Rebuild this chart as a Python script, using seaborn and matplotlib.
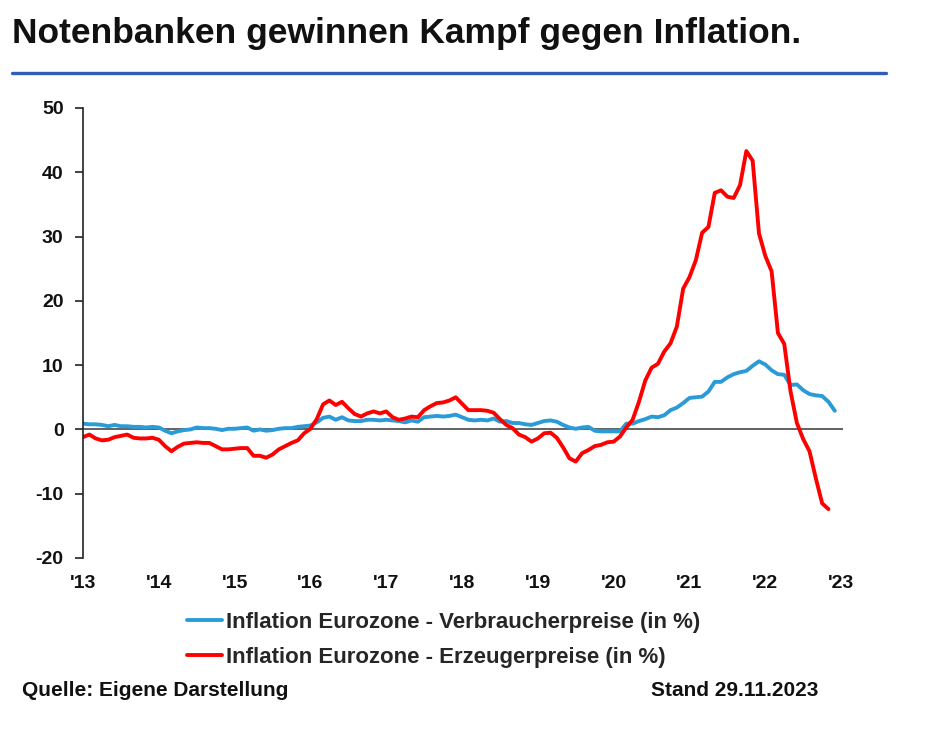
import numpy as np
import pandas as pd
import seaborn as sns
import matplotlib
matplotlib.use("Agg")
import matplotlib.pyplot as plt
from matplotlib.lines import Line2D

# ---- data (monthly, first point = first category) ----
cpi = [0.9, 0.8,
       0.8, 0.7, 0.5, 0.7, 0.5, 0.5, 0.4, 0.4, 0.3, 0.4, 0.3, -0.2,
       -0.6, -0.3, -0.1, 0.0, 0.3, 0.2, 0.2, 0.1, -0.1, 0.1, 0.1, 0.2,
       0.3, -0.2, 0.0, -0.2, -0.1, 0.1, 0.2, 0.2, 0.4, 0.5, 0.6, 1.1,
       1.8, 2.0, 1.5, 1.9, 1.4, 1.3, 1.3, 1.5, 1.5, 1.4, 1.5, 1.4,
       1.3, 1.1, 1.4, 1.2, 1.9, 2.0, 2.1, 2.0, 2.1, 2.3, 1.9, 1.5,
       1.4, 1.5, 1.4, 1.7, 1.2, 1.3, 1.0, 1.0, 0.8, 0.7, 1.0, 1.3,
       1.4, 1.2, 0.7, 0.3, 0.1, 0.3, 0.4, -0.2, -0.3, -0.3, -0.3, -0.3,
       0.9, 0.9, 1.3, 1.6, 2.0, 1.9, 2.2, 3.0, 3.4, 4.1, 4.9, 5.0,
       5.1, 5.9, 7.4, 7.4, 8.1, 8.6, 8.9, 9.1, 9.9, 10.6, 10.1, 9.2,
       8.6, 8.5, 6.9, 7.0, 6.1, 5.5, 5.3, 5.2, 4.3, 2.9]

ppi = [-1.2, -0.8,
       -1.4, -1.7, -1.6, -1.2, -1.0, -0.8, -1.3, -1.4, -1.4, -1.3, -1.6, -2.6,
       -3.4, -2.7, -2.2, -2.1, -2.0, -2.1, -2.1, -2.6, -3.1, -3.1, -3.0, -2.9,
       -2.9, -4.1, -4.1, -4.4, -3.9, -3.1, -2.6, -2.1, -1.7, -0.6, 0.1, 1.6,
       3.9, 4.5, 3.8, 4.3, 3.3, 2.4, 2.0, 2.5, 2.8, 2.5, 2.8, 1.9,
       1.5, 1.7, 2.0, 1.9, 3.0, 3.6, 4.1, 4.2, 4.5, 5.0, 4.0, 3.0,
       3.0, 3.0, 2.9, 2.6, 1.6, 0.7, 0.2, -0.8, -1.2, -1.9, -1.4, -0.6,
       -0.5, -1.3, -2.8, -4.5, -5.0, -3.7, -3.2, -2.6, -2.4, -2.0, -1.9, -1.1,
       0.3, 1.5, 4.3, 7.6, 9.6, 10.2, 12.1, 13.4, 16.0, 21.9, 23.7, 26.3,
       30.6, 31.5, 36.8, 37.2, 36.2, 36.0, 38.0, 43.3, 41.8, 30.5, 27.0, 24.6,
       15.0, 13.3, 5.9, 1.0, -1.5, -3.4, -7.6, -11.5, -12.4]

tick_labels = ["'13", "'14", "'15", "'16", "'17", "'18", "'19", "'20", "'21", "'22", "'23"]
y_ticks = [-20, -10, 0, 10, 20, 30, 40, 50]

label_cpi = "Inflation Eurozone - Verbraucherpreise (in %)"
label_ppi = "Inflation Eurozone - Erzeugerpreise (in %)"

df = pd.concat([
    pd.DataFrame({"t": np.arange(len(cpi)), "v": cpi, "s": label_cpi}),
    pd.DataFrame({"t": np.arange(len(ppi)), "v": ppi, "s": label_ppi}),
], ignore_index=True)

sns.set_theme(style="white")
plt.rcParams["font.family"] = ["Liberation Sans", "DejaVu Sans"]
plt.rcParams["font.weight"] = "bold"

W, H = 928, 736
fig = plt.figure(figsize=(W / 100, H / 100), dpi=100)
ax = fig.add_axes([83 / W, 1 - 558 / H, (843 - 83) / W, (558 - 108) / H])

palette = {label_cpi: "#2B9BD8", label_ppi: "#FF0000"}
sns.lineplot(data=df, x="t", y="v", hue="s", palette=palette, linewidth=2.8,
             ax=ax, legend=False)

ax.axhline(0, color="#555555", linewidth=1.3, zorder=1)

ax.set_xlim(0, 120.3)
ax.set_ylim(-20, 50)
ax.set_yticks(y_ticks)
ax.set_yticklabels([str(v) for v in y_ticks], fontsize=14, fontweight="bold", color="#111111")
ax.set_xticks(np.arange(0, 12 * len(tick_labels), 12))
ax.set_xticklabels(tick_labels, fontsize=14, fontweight="bold", color="#111111")
ax.tick_params(axis="y", direction="out", length=6, width=1.2, color="#222222", pad=8, left=True)
ax.tick_params(axis="x", length=0, pad=12)
ax.set_xlabel("")
ax.set_ylabel("")
for s in ["top", "right", "bottom"]:
    ax.spines[s].set_visible(False)
ax.spines["left"].set_color("#222222")
ax.spines["left"].set_linewidth(1.2)

# title and rule
fig.text(12 / W, 1 - 33 / H, "Notenbanken gewinnen Kampf gegen Inflation.",
         fontsize=25.5, fontweight="bold", color="#111111", va="center", ha="left")
fig.add_artist(Line2D([12 / W, 886 / W], [1 - 73 / H, 1 - 73 / H],
                      color="#2F5DB8", linewidth=2.4, transform=fig.transFigure))

# legend
handles = [Line2D([0], [0], color=palette[label_cpi], linewidth=2.8),
           Line2D([0], [0], color=palette[label_ppi], linewidth=2.8)]
fig.legend(handles, [label_cpi, label_ppi], loc="center left",
           bbox_to_anchor=(187 / W, 1 - 640 / H), frameon=False,
           prop={"size": 16, "weight": "bold"}, handlelength=1.58,
           handletextpad=0.18, labelspacing=0.62, borderpad=0, borderaxespad=0)

# footer
fig.text(22 / W, 1 - 690 / H, "Quelle: Eigene Darstellung", fontsize=15,
         fontweight="bold", color="#111111", va="center", ha="left")
fig.text(651 / W, 1 - 690 / H, "Stand 29.11.2023", fontsize=15,
         fontweight="bold", color="#111111", va="center", ha="left")

fig.savefig("out.png", dpi=100)
